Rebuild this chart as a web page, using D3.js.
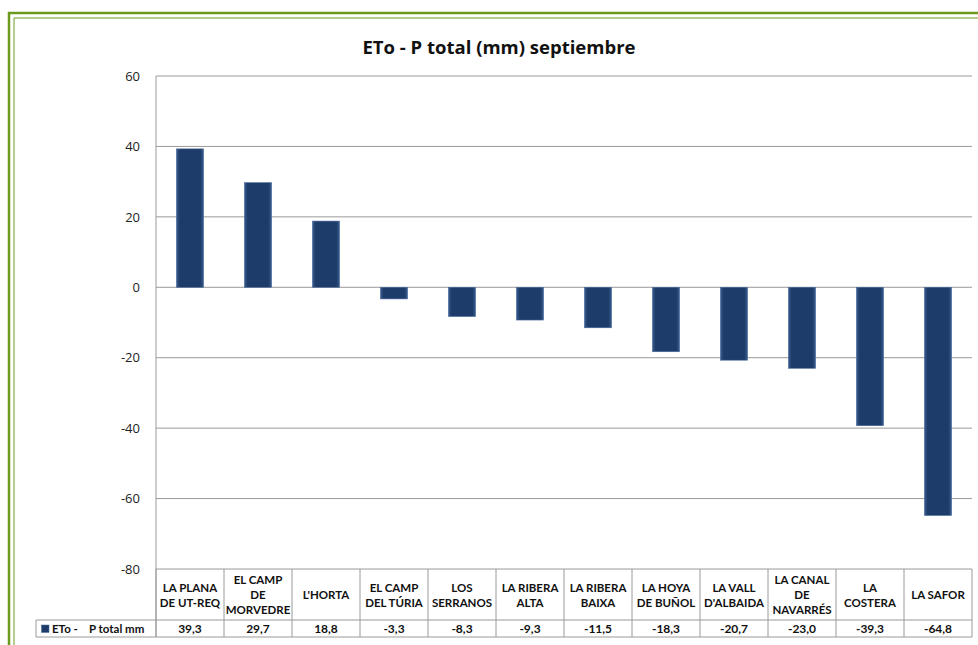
<!DOCTYPE html>
<html>
<head>
<meta charset="utf-8">
<script src="https://cdn.jsdelivr.net/npm/d3@7"></script>
<style>
  body { margin: 0; background: #fff; overflow: hidden; }
  svg { display: block; font-family: "Lato", "Open Sans", sans-serif; }
</style>
</head>
<body>
<div id="chart"></div>
<script>
// data
const categories = [
  ["LA PLANA", "DE UT-REQ"],
  ["EL CAMP", "DE", "MORVEDRE"],
  ["L'HORTA"],
  ["EL CAMP", "DEL TÚRIA"],
  ["LOS", "SERRANOS"],
  ["LA RIBERA", "ALTA"],
  ["LA RIBERA", "BAIXA"],
  ["LA HOYA", "DE BUÑOL"],
  ["LA VALL", "D'ALBAIDA"],
  ["LA CANAL", "DE", "NAVARRÉS"],
  ["LA", "COSTERA"],
  ["LA SAFOR"]
];
const values = [39.3, 29.7, 18.8, -3.3, -8.3, -9.3, -11.5, -18.3, -20.7, -23.0, -39.3, -64.8];
const yTicks = [60, 40, 20, 0, -20, -40, -60, -80];
const seriesName = "ETo -    P total mm";
const title = "ETo - P total (mm) septiembre";

const width = 978, height = 645;
const margin = { top: 76, right: 6, bottom: 76, left: 156 };
const innerWidth = width - margin.left - margin.right;
const innerHeight = height - margin.top - margin.bottom;

const svg = d3.select("#chart")
  .append("svg")
    .attr("width", width)
    .attr("height", height);

// green double frame (only top and left edges are visible in the crop)
svg.append("path")
  .attr("d", `M9,${height} V13 H${width}`)
  .attr("fill", "none").attr("stroke", "#6b9a1e").attr("stroke-width", 2.5);
svg.append("path")
  .attr("d", `M14,${height} V18 H${width}`)
  .attr("fill", "none").attr("stroke", "#6b9a1e").attr("stroke-width", 1);

svg.append("text")
  .attr("x", 499).attr("y", 54)
  .attr("text-anchor", "middle")
  .attr("font-family", "'Open Sans', sans-serif")
  .attr("font-size", "18.5px").attr("font-weight", "bold")
  .attr("fill", "#111")
  .text(title);

const defs = svg.append("defs");
const grad = defs.append("linearGradient").attr("id", "barGrad")
  .attr("x1", "0%").attr("x2", "100%").attr("y1", "0%").attr("y2", "0%");
grad.append("stop").attr("offset", "0%").attr("stop-color", "#3a5d8f");
grad.append("stop").attr("offset", "12%").attr("stop-color", "#1e3c6a");
grad.append("stop").attr("offset", "88%").attr("stop-color", "#1e3c6a");
grad.append("stop").attr("offset", "100%").attr("stop-color", "#3a5d8f");

const inner = svg.append("g")
  .attr("transform", `translate(${margin.left}, ${margin.top})`);

const xScale = d3.scaleBand()
  .domain(d3.range(categories.length))
  .range([0, innerWidth])
  .paddingInner(0.6)
  .paddingOuter(0.3);
const band = innerWidth / categories.length;

const yScale = d3.scaleLinear()
  .domain([-80, 60])
  .range([innerHeight, 0]);

// gridlines
inner.append("g")
  .selectAll("line")
  .data(yTicks)
  .join("line")
    .attr("x1", 0).attr("x2", innerWidth)
    .attr("y1", d => yScale(d)).attr("y2", d => yScale(d))
    .attr("stroke", "#9a9a9a").attr("stroke-width", 1);

const leftAxis = d3.axisLeft(yScale)
  .tickValues(yTicks)
  .tickFormat(d => String(d))
  .tickSize(0)
  .tickPadding(16);
const yAxisG = inner.append("g")
  .attr("class", "axis axis-y")
  .call(leftAxis);
yAxisG.select(".domain").remove();
yAxisG.selectAll("text")
  .attr("font-size", "13px")
  .attr("font-family", "'Open Sans', sans-serif")
  .attr("fill", "#222");

// bars
inner.append("g")
  .selectAll("rect")
  .data(values)
  .join("rect")
    .attr("x", (d, i) => xScale(i))
    .attr("y", d => yScale(Math.max(0, d)))
    .attr("width", xScale.bandwidth())
    .attr("height", d => Math.abs(yScale(d) - yScale(0)))
    .attr("fill", "url(#barGrad)")
    .attr("stroke", "#4a6a99")
    .attr("stroke-width", 0.6);

// data table
const tableTop = innerHeight;
const valueRowTop = innerHeight + 51;
const tableBottom = innerHeight + 68;
const legendLeft = 36 - margin.left;
const gridColor = "#9a9a9a";

const table = inner.append("g").attr("class", "data-table");

// left axis line extends through the table
table.append("line")
  .attr("x1", 0).attr("x2", 0)
  .attr("y1", 0).attr("y2", tableBottom)
  .attr("stroke", gridColor);

d3.range(categories.length + 1).forEach(i => {
  table.append("line")
    .attr("x1", i * band).attr("x2", i * band)
    .attr("y1", tableTop).attr("y2", tableBottom)
    .attr("stroke", gridColor);
});
table.append("line")
  .attr("x1", legendLeft).attr("x2", innerWidth)
  .attr("y1", valueRowTop).attr("y2", valueRowTop)
  .attr("stroke", gridColor);
table.append("line")
  .attr("x1", legendLeft).attr("x2", innerWidth)
  .attr("y1", tableBottom).attr("y2", tableBottom)
  .attr("stroke", gridColor);
table.append("line")
  .attr("x1", legendLeft).attr("x2", legendLeft)
  .attr("y1", valueRowTop).attr("y2", tableBottom)
  .attr("stroke", gridColor);

// category labels
categories.forEach((lines, i) => {
  const cx = i * band + band / 2;
  const midY = tableTop + 26;
  const lineH = 15;
  const t = table.append("text")
    .attr("text-anchor", "middle")
    .attr("font-size", "11.5px")
    .attr("font-weight", "bold")
    .attr("fill", "#111");
  lines.forEach((ln, k) => {
    t.append("tspan")
      .attr("x", cx)
      .attr("y", midY + (k - (lines.length - 1) / 2) * lineH + 4)
      .text(ln);
  });
});

// value row
const fmt = v => d3.format(".1f")(v).replace(".", ",").replace("−", "-");
table.selectAll(".val")
  .data(values)
  .join("text")
    .attr("class", "val")
    .attr("x", (d, i) => i * band + band / 2)
    .attr("y", valueRowTop + 13)
    .attr("text-anchor", "middle")
    .attr("font-size", "12px")
    .attr("font-weight", "bold")
    .attr("fill", "#111")
    .text(fmt);

// legend key
table.append("rect")
  .attr("x", legendLeft + 5.5).attr("y", valueRowTop + 5)
  .attr("width", 7.5).attr("height", 7.5)
  .attr("fill", "#1e3c6a").attr("stroke", "#4a6a99").attr("stroke-width", 0.5);
table.append("text")
  .attr("x", legendLeft + 16).attr("y", valueRowTop + 13)
  .attr("font-size", "11.5px")
  .attr("font-weight", "bold")
  .attr("fill", "#111")
  .attr("xml:space", "preserve")
  .style("white-space", "pre")
  .text(seriesName);
</script>
</body>
</html>
